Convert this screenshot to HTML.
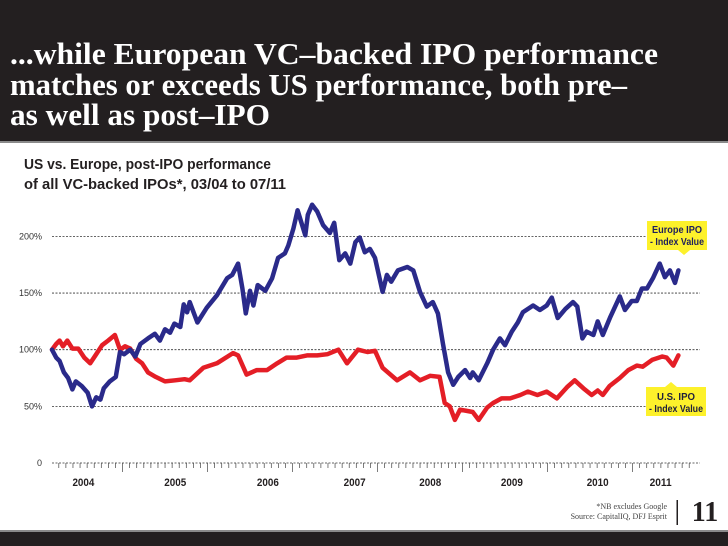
<!DOCTYPE html>
<html><head><meta charset="utf-8"><style>
html,body{margin:0;padding:0;background:#fff;}
svg{display:block;}
</style></head><body>
<svg id="chart" width="728" height="546" viewBox="0 0 728 546" xmlns="http://www.w3.org/2000/svg">
<rect x="0" y="0" width="728" height="141" fill="#231f20"/>
<rect x="0" y="141" width="728" height="2" fill="#8a8a8a"/>
<g fill="#fff" font-family="Liberation Serif, serif" font-weight="bold" font-size="31">
<text x="10" y="64" textLength="648" lengthAdjust="spacingAndGlyphs">...while European VC–backed IPO performance</text>
<text x="10" y="95" textLength="617" lengthAdjust="spacingAndGlyphs">matches or exceeds US performance, both pre–</text>
<text x="10" y="125" textLength="260" lengthAdjust="spacingAndGlyphs">as well as post–IPO</text>
</g>
<g fill="#231f20" font-family="Liberation Sans, sans-serif" font-weight="bold" font-size="14.5">
<text x="24" y="169" textLength="247" lengthAdjust="spacingAndGlyphs">US vs. Europe, post-IPO performance</text>
<text x="24" y="189" textLength="262" lengthAdjust="spacingAndGlyphs">of all VC-backed IPOs*, 03/04 to 07/11</text>
</g>
<g id="grid"></g>
<g id="yaxis"></g>
<g id="xaxis"></g>
<g id="series"></g>
<g>
<polygon points="647,221 707,221 707,250 690,250 684,255 678,250 647,250" fill="#fdf12b"/>
<text x="677" y="233" text-anchor="middle" font-family="Liberation Sans, sans-serif" font-weight="bold" font-size="10.5" fill="#1f1f5c" textLength="50" lengthAdjust="spacingAndGlyphs">Europe IPO</text>
<text x="677" y="245" text-anchor="middle" font-family="Liberation Sans, sans-serif" font-weight="bold" font-size="10.5" fill="#1f1f5c" textLength="54" lengthAdjust="spacingAndGlyphs">- Index Value</text>
</g>
<g>
<polygon points="646,387 665,387 671,382 677,387 706,387 706,416 646,416" fill="#fdf12b"/>
<text x="676" y="400" text-anchor="middle" font-family="Liberation Sans, sans-serif" font-weight="bold" font-size="10.5" fill="#1f1f3c" textLength="38" lengthAdjust="spacingAndGlyphs">U.S. IPO</text>
<text x="676" y="412" text-anchor="middle" font-family="Liberation Sans, sans-serif" font-weight="bold" font-size="10.5" fill="#1f1f3c" textLength="54" lengthAdjust="spacingAndGlyphs">- Index Value</text>
</g>
<g font-family="Liberation Serif, serif" font-size="8" fill="#444" text-anchor="end">
<text x="667" y="509">*NB excludes Google</text>
<text x="667" y="519">Source: CapitalIQ, DFJ Esprit</text>
</g>
<rect x="676.5" y="500" width="1.5" height="25" fill="#231f20"/>
<text x="705" y="521" text-anchor="middle" font-family="Liberation Serif, serif" font-weight="bold" font-size="28" fill="#231f20">11</text>
<rect x="0" y="530" width="728" height="2" fill="#8a8a8a"/>
<rect x="0" y="532" width="728" height="14" fill="#231f20"/>
</svg>
<script>
const yTicks = [0, 50, 100, 150, 200];
const yTickLabels = ["0", "50%", "100%", "150%", "200%"];
const yearLabels = ["2004","2005","2006","2007","2008","2009","2010","2011"];
const yearLabelDates = [2004.54,2005.62,2006.71,2007.73,2008.62,2009.58,2010.59,2011.33];
const europeDates = [2004.17,2004.22,2004.26,2004.31,2004.36,2004.41,2004.45,2004.52,2004.59,2004.64,2004.69,2004.74,2004.78,2004.85,2004.92,2004.97,2005.02,2005.09,2005.15,2005.21,2005.30,2005.38,2005.44,2005.50,2005.56,2005.61,2005.68,2005.72,2005.76,2005.79,2005.88,2005.99,2006.11,2006.23,2006.29,2006.36,2006.41,2006.45,2006.50,2006.54,2006.59,2006.68,2006.76,2006.83,2006.91,2006.95,2007.01,2007.06,2007.15,2007.18,2007.23,2007.29,2007.36,2007.44,2007.49,2007.55,2007.62,2007.68,2007.74,2007.79,2007.85,2007.91,2007.97,2008.06,2008.11,2008.16,2008.24,2008.35,2008.42,2008.50,2008.58,2008.65,2008.71,2008.77,2008.83,2008.89,2008.95,2009.03,2009.09,2009.12,2009.19,2009.29,2009.36,2009.44,2009.50,2009.58,2009.65,2009.71,2009.77,2009.83,2009.91,2009.99,2010.05,2010.12,2010.21,2010.30,2010.35,2010.41,2010.46,2010.54,2010.59,2010.65,2010.74,2010.85,2010.91,2010.99,2011.05,2011.11,2011.17,2011.24,2011.32,2011.38,2011.44,2011.50,2011.54];
const europeValues = [100,93,90,80,75,65,72,68,62,50,58,56,66,72,76,98,96,100,94,105,110,114,108,118,115,123,120,140,133,142,124,137,148,163,166,176,154,132,152,139,157,152,163,181,185,192,207,223,201,219,228,222,210,203,212,179,185,176,195,199,186,189,181,151,166,160,170,173,170,151,138,142,132,105,80,69,76,82,75,80,73,88,100,110,104,116,124,133,136,139,135,139,146,128,136,142,138,110,116,113,125,113,129,147,135,143,143,154,154,163,176,164,170,159,170];
const usDates = [2004.17,2004.22,2004.26,2004.30,2004.35,2004.41,2004.48,2004.55,2004.62,2004.69,2004.76,2004.83,2004.91,2004.97,2005.03,2005.09,2005.16,2005.23,2005.30,2005.39,2005.50,2005.62,2005.73,2005.79,2005.95,2006.11,2006.30,2006.36,2006.46,2006.58,2006.70,2006.82,2006.93,2007.05,2007.17,2007.29,2007.41,2007.54,2007.64,2007.77,2007.88,2007.97,2008.06,2008.23,2008.38,2008.50,2008.62,2008.73,2008.79,2008.85,2008.91,2008.97,2009.05,2009.12,2009.19,2009.29,2009.36,2009.46,2009.56,2009.68,2009.77,2009.88,2009.99,2010.11,2010.23,2010.32,2010.42,2010.52,2010.59,2010.65,2010.73,2010.85,2010.95,2011.05,2011.12,2011.23,2011.35,2011.40,2011.48,2011.54];
const usValues = [100,105,108,103,108,101,101,93,88,96,104,108,113,100,103,101,92,88,80,76,72,73,74,73,84,88,97,95,78,82,82,88,93,93,95,95,96,100,88,100,98,99,84,73,80,73,77,76,53,50,38,47,46,45,38,49,53,57,57,60,63,60,63,57,67,73,66,60,64,60,68,75,82,86,85,91,94,93,86,95];

const NS = "http://www.w3.org/2000/svg";
function xScale(t){ return 52 + (t - 2004.17) * 85; }
function yScale(v){ return 463 - v * 1.133; }
function mk(tag, attrs, parent){
  const el = document.createElementNS(NS, tag);
  for (const k in attrs) el.setAttribute(k, attrs[k]);
  parent.appendChild(el);
  return el;
}
const grid = document.getElementById('grid');
const yaxis = document.getElementById('yaxis');
const xaxis = document.getElementById('xaxis');
const series = document.getElementById('series');

yTicks.forEach((v, i) => {
  const yy = yScale(v);
  const ln = mk('line', {x1: 52, x2: 700, y1: yy, y2: yy, stroke: '#333', 'stroke-width': 0.8, 'stroke-dasharray': '2,1.5'}, grid);
  
  
  const tx = mk('text', {x: 42, y: yy + 3, 'text-anchor': 'end', 'font-family': 'Liberation Sans, sans-serif', 'font-size': 9, fill: '#333'}, yaxis);
  tx.textContent = yTickLabels[i];
  
  
});

// monthly ticks
for (let m = 0; m <= 92; m++) {
  const t = 2004.0 + m / 12;
  const xx = xScale(t);
  if (xx < 54 || xx > 690) continue;
  const major = (m % 12 === 0);
  const tk = mk('line', {x1: xx, x2: xx, y1: 463, y2: major ? 472 : 468, stroke: '#444', 'stroke-width': 0.7}, xaxis);
  
  
}
yearLabels.forEach((lab, i) => {
  const tx = mk('text', {x: xScale(yearLabelDates[i]), y: 486, 'text-anchor': 'middle', 'font-family': 'Liberation Sans, sans-serif', 'font-weight': 'bold', 'font-size': 11, fill: '#231f20', textLength: 22, lengthAdjust: 'spacingAndGlyphs'}, xaxis);
  tx.textContent = lab;
  
  
});

function drawLine(dates, vals, color, name){
  const n = Math.min(dates.length, vals.length);
  let d = '';
  for (let i = 0; i < n; i++) d += (i ? 'L' : 'M') + xScale(dates[i]).toFixed(1) + ',' + yScale(vals[i]).toFixed(1);
  const p = mk('path', {d: d, fill: 'none', stroke: color, 'stroke-width': 4.5, 'stroke-linejoin': 'round', 'stroke-linecap': 'round'}, series);
  
  
}
drawLine(usDates, usValues, '#e41e26', 'us-ipo-line');
drawLine(europeDates, europeValues, '#2a2a8a', 'europe-ipo-line');
</script>
</body></html>
